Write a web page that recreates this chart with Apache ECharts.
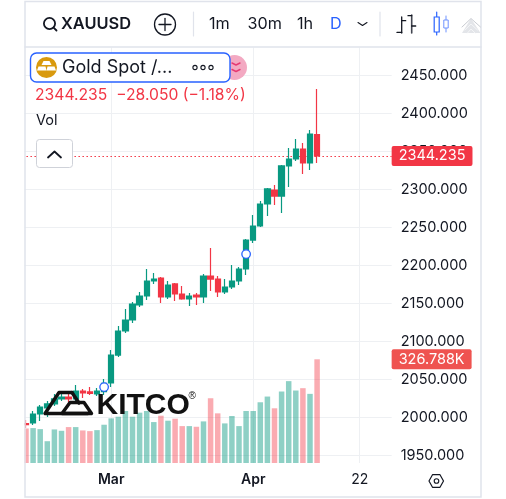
<!DOCTYPE html>
<html>
<head>
<meta charset="utf-8">
<title>XAUUSD</title>
<style>html,body{margin:0;padding:0;background:#fff}#chart{width:506px;height:499px}</style>
<script src="https://cdn.jsdelivr.net/npm/echarts@6/dist/echarts.min.js"></script>
</head>
<body>
<div id="chart"></div>
<script>
// Trading days shown on the time scale, including the empty days to the right of the last bar.
const categories = [
  '2024-02-14','2024-02-15','2024-02-16','2024-02-19','2024-02-20','2024-02-21','2024-02-22','2024-02-23',
  '2024-02-26','2024-02-27','2024-02-28','2024-02-29','2024-03-01','2024-03-04','2024-03-05','2024-03-06',
  '2024-03-07','2024-03-08','2024-03-11','2024-03-12','2024-03-13','2024-03-14','2024-03-15','2024-03-18',
  '2024-03-19','2024-03-20','2024-03-21','2024-03-22','2024-03-25','2024-03-26','2024-03-27','2024-03-28',
  '2024-04-01','2024-04-02','2024-04-03','2024-04-04','2024-04-05','2024-04-08','2024-04-09','2024-04-10',
  '2024-04-11','2024-04-12','2024-04-15','2024-04-16','2024-04-17','2024-04-18','2024-04-19','2024-04-22',
  '2024-04-23','2024-04-24','2024-04-25','2024-04-26'
];
const opens = [
  1992,1992.8,2004.6,2012.5,2017.8,2024.4,2027,2024.4,2034.9,2033.6,2031,2034,
  2045.4,2082.2,2113.8,2128.3,2148,2159.9,2179.6,2183.5,2158.6,2175.7,2162.5,2156,
  2161.2,2158.6,2186.2,2182.2,2165.1,2171.7,2179.6,2195.4,2233.5,2252,2280.9,2299.3,
  2291.4,2331,2340.1,2353.3,2334.9,2372.285
];
const closes = [
  1990.5,2004.6,2013.8,2017.8,2024.4,2027,2024.4,2034.9,2032.3,2031.6,2034.9,2045,
  2082.2,2113.8,2128.3,2149.3,2159.9,2179.6,2182.2,2158.6,2174.3,2162.5,2156,2159.9,
  2158.6,2186.2,2182.2,2165.1,2171.7,2179.6,2195.4,2233.5,2252,2280.9,2300.7,2291.4,
  2331,2340.1,2353.3,2334.9,2373,2344.235
];
const lows = [
  1986.2,1990.2,1995.4,2000.7,2015.2,2021.7,2020.4,2017.8,2025.7,2029.6,2028.3,2029.6,
  2040.1,2079.6,2111.2,2124.3,2145.4,2154.6,2175.7,2150.7,2156,2153.3,2155,2146.7,
  2148,2150.7,2166.4,2158.6,2162.5,2169,2174.3,2187.5,2229.6,2250.7,2265.1,2279.6,
  2269,2303.3,2337.5,2320.4,2325.7,2334.9
];
const highs = [
  1996.7,2008.6,2016.5,2021.7,2031,2032.3,2034.9,2042.8,2037.5,2040.1,2038.8,2050.7,
  2088.8,2120.4,2142.8,2152,2165.1,2195.4,2190.1,2184.9,2179.6,2177,2173,2163.8,
  2163.8,2188.8,2223,2186.2,2182.2,2200.6,2198,2235,2266.4,2284.9,2302,2306,
  2332.3,2354.6,2366.5,2361.2,2378.3,2432.2
];
// Volume in thousands.
const volumes = [
  108.9,110,106.8,68.7,105.8,101.5,113.2,113.2,102.6,100.5,103.6,120.6,
  140.7,145.9,163.9,145.9,158.6,163.9,129,149.1,133.3,139.6,116.3,116.3,
  114.2,131.1,204.1,156.5,124.8,148.1,116.3,163.9,163.9,191.4,209.4,172.4,
  225.3,258,228.4,235.8,217.9,326.788
];
// Event markers pinned to the price scale.
const eventDays = ['2024-02-29','2024-03-28'];
const eventPrices = [2040,2215];
const priceTicks = {min:1950,max:2450,step:50};
const timeLabels = {'2024-03-01':'Mar','2024-04-01':'Apr','2024-04-22':'22'};
const boldLabels = ['Mar','Apr'];
const intervals = ['1m','30m','1h','D'];
const symbolName = 'XAUUSD';
const legendName = 'Gold Spot /...';
const previousClose = 2372.285;

const lastClose = closes[closes.length - 1];
const lastVolume = volumes[volumes.length - 1];
const change = lastClose - previousClose;
const minus = '\u2212';
const readout = lastClose.toFixed(3) + '  ' + minus + Math.abs(change).toFixed(3) +
  ' (' + minus + Math.abs(change / previousClose * 100).toFixed(2) + '%)';

const UP = '#089981', DOWN = '#f23645', INK = '#131722', RULE = '#e0e3eb', BLUE = '#2962ff';
const FONT = 'Inter, "Noto Sans", sans-serif';

const text = (x, y, str, size, fill, extra) => ({
  type: 'text', z: 110, silent: true,
  style: Object.assign({x, y, text: str, fontSize: size, fontFamily: FONT, fill, textVerticalAlign: 'middle', verticalAlign: 'middle'}, extra || {})
});
const line = (pts, stroke, width, z) => ({
  type: 'polyline', z: z || 110, silent: true,
  shape: {points: pts}, style: {stroke, lineWidth: width, fill: null, lineCap: 'round', lineJoin: 'round'}
});
const box = (x, y, w, h, r, fill, stroke, width, z) => ({
  type: 'rect', z: z || 105, silent: true,
  shape: {x, y, width: w, height: h, r},
  style: {fill, stroke: stroke || null, lineWidth: width || 0}
});
const dot = (cx, cy, r, fill, stroke, width, z) => ({
  type: 'circle', z: z || 110, silent: true,
  shape: {cx, cy, r}, style: {fill, stroke: stroke || null, lineWidth: width || 0}
});
const poly = (pts, fill, z) => ({type: 'polygon', z: z || 112, silent: true, shape: {points: pts}, style: {fill}});

const chrome = [
  // Page margins and panel frame
  box(0, 0, 24.5, 499, 0, '#fff', null, 0, 100),
  box(481.5, 0, 25, 499, 0, '#fff', null, 0, 100),
  box(25, 1.5, 456, 46, 0, '#fff', null, 0, 100),
  box(25, 1.5, 456, 495.5, 0, 'transparent', RULE, 1.5, 108),
  line([[25, 47], [481, 47]], RULE, 1.5, 108),

  // Toolbar
  dot(49.5, 23.5, 5.6, 'transparent', INK, 1.8),
  line([[53.6, 27.6], [56.5, 30.5]], INK, 1.8),
  text(61, 24, symbolName, 16.4, INK, {fontWeight: 600}),
  dot(165, 24.5, 10.5, 'transparent', INK, 1.3),
  line([[165, 18.5], [165, 30.5]], INK, 1.3),
  line([[159, 24.5], [171, 24.5]], INK, 1.3),
  line([[193.5, 12], [193.5, 36]], RULE, 1.2),
  text(209, 24.5, intervals[0], 16.2, INK),
  text(247.5, 24.5, intervals[1], 16.2, INK),
  text(297, 24.5, intervals[2], 16.2, INK),
  text(330, 24.5, intervals[3], 16.2, BLUE),
  line([[358, 22.5], [362.5, 25.5], [367, 22.5]], INK, 1.1),
  line([[380, 12], [380, 36]], RULE, 1.2),

  // Bar / candle / area style buttons
  line([[401.7, 17], [401.7, 33]], INK, 1.3),
  line([[397, 32.4], [401.7, 32.4]], INK, 1.3),
  line([[401.7, 20.7], [405.7, 20.7]], INK, 1.3),
  line([[411.7, 15], [411.7, 33]], '#434651', 1.6),
  line([[408, 15.7], [411.7, 15.7]], INK, 1.3),
  line([[411.7, 26], [415.7, 26]], INK, 1.3),
  line([[436.7, 12], [436.7, 35]], BLUE, 1.2),
  box(434.2, 17, 5, 15, 0, '#fff', BLUE, 1.2, 110),
  line([[446, 16], [446, 32]], '#6f93ff', 1),
  box(443.8, 20, 4.4, 8, 0, '#fff', '#6f93ff', 1, 110),
  poly([[462, 33], [471, 18.5], [480.5, 33]], '#e3e5e9', 110),
  line([[462, 27], [471, 18.5], [480.5, 27]], '#c9ccd2', 1),
  line([[465, 30], [471, 24], [477.5, 30]], '#f4f5f7', 1),
  line([[467.5, 33], [471, 29], [475, 33]], '#f4f5f7', 1),

  // Instrument legend
  dot(234.5, 67.5, 12.5, '#f3a9c2', null, 0, 106),
  line([[232, 63], [236, 65], [240, 63]], '#e63a73', 1.4),
  line([[232, 69.5], [236, 71.5], [240, 69.5]], '#e63a73', 1.4),
  box(30.5, 53, 199.5, 29, 6, '#fff', BLUE, 1.4, 107),
  dot(46.5, 67.5, 10.5, '#d99a0e', null, 0, 111),
  poly([[43.5, 61], [49.5, 61], [51.5, 65], [41.5, 65]], '#fff'),
  poly([[38.5, 66.5], [45.5, 66.5], [46.5, 70.5], [37, 70.5]], '#fff'),
  poly([[47.5, 66.5], [54.5, 66.5], [56, 70.5], [46.5, 70.5]], '#fff'),
  text(62, 68, legendName, 18, INK),
  dot(195, 67.5, 2.1, '#fff', INK, 1.1),
  dot(203, 67.5, 2.1, '#fff', INK, 1.1),
  dot(211, 67.5, 2.1, '#fff', INK, 1.1),
  text(35, 95, readout, 15.7, DOWN),
  text(36, 121, 'Vol', 14.5, INK),
  box(36.5, 139.5, 36, 28, 3, '#fff', '#cfd2d9', 1, 107),
  line([[48, 157.5], [54.5, 151.5], [61, 157.5]], INK, 1.8),

  // Axis settings hexagon
  line([[429, 481], [432.5, 474.7], [440, 474.7], [443.5, 481], [440, 487.3], [432.5, 487.3], [429, 481]], INK, 1.2),
  dot(436.5, 481, 2.3, 'transparent', INK, 1.1),

  // Publisher logo
  line([[72, 392.5], [59, 392.5], [45, 413.5], [88, 413.5]], '#111', 3.4, 115),
  line([[72, 392.5], [79, 403]], '#111', 3.4, 115),
  line([[62, 413.5], [70, 402.5], [84, 402.5], [91.5, 413.5], [62, 413.5]], '#111', 3.4, 115),
  {type: 'text', z: 115, silent: true, style: {x: 96.5, y: 405.5, text: 'KITCO', fontSize: 30, fontWeight: 'bold',
    fontFamily: '"Liberation Sans", sans-serif', fill: '#111', verticalAlign: 'middle', textVerticalAlign: 'middle'}},
  {type: 'text', z: 115, silent: true, style: {x: 188.5, y: 396, text: '\u00ae', fontSize: 10,
    fontFamily: '"Liberation Sans", sans-serif', fill: '#111', verticalAlign: 'middle', textVerticalAlign: 'middle'}}
];

const priceFlag = (bg) => ({
  show: true, position: 'end', distance: 0, color: '#fff', fontSize: 14.5, fontFamily: FONT,
  backgroundColor: bg, padding: [2.5, 7, 2.5, 7], borderRadius: 2
});

const chart = echarts.init(document.getElementById('chart'), null, {renderer: 'canvas'});
chart.setOption({
  animation: false,
  backgroundColor: '#fff',
  graphic: {elements: chrome},
  grid: [
    {left: 22.45, width: 369.2, top: 75.5, height: 380},
    {left: 22.45, width: 369.2, top: 47, height: 416}
  ],
  xAxis: [
    {type: 'category', gridIndex: 0, data: categories, show: false},
    {
      type: 'category', gridIndex: 1, data: categories,
      axisLine: {show: false}, axisTick: {show: false},
      splitLine: {
        show: true, alignWithLabel: true,
        interval: (i, v) => v in timeLabels,
        lineStyle: {color: '#eef0f3', width: 1}
      },
      axisLabel: {
        interval: (i, v) => v in timeLabels,
        margin: 10, fontFamily: FONT,
        formatter: v => boldLabels.includes(timeLabels[v]) ? '{b|' + timeLabels[v] + '}' : '{n|' + timeLabels[v] + '}',
        rich: {
          b: {fontWeight: 600, fontSize: 14, color: INK, fontFamily: FONT},
          n: {fontSize: 14, color: INK, fontFamily: FONT}
        }
      }
    }
  ],
  yAxis: [
    {
      type: 'value', gridIndex: 0, position: 'right', scale: true,
      min: priceTicks.min, max: priceTicks.max, interval: priceTicks.step,
      axisLine: {show: false}, axisTick: {show: false},
      splitLine: {show: true, lineStyle: {color: '#eef0f3', width: 1}},
      axisLabel: {margin: 9, color: INK, fontSize: 14.5, fontFamily: FONT, formatter: v => v.toFixed(3)}
    },
    {type: 'value', gridIndex: 1, min: 0, max: 1311, show: false}
  ],
  series: [
    {
      type: 'bar', name: 'Vol', xAxisIndex: 1, yAxisIndex: 1, barWidth: 5.5, z: 2,
      data: volumes.map((v, i) => ({
        value: v,
        itemStyle: {color: closes[i] >= opens[i] ? 'rgba(8,153,129,0.46)' : 'rgba(242,54,69,0.42)'}
      })),
      markLine: {
        silent: true, symbol: 'none', animation: false,
        lineStyle: {color: 'transparent', width: 0},
        data: [{yAxis: lastVolume, label: Object.assign(priceFlag('#ef5350'), {formatter: () => lastVolume.toFixed(3) + 'K'})}]
      }
    },
    {
      type: 'candlestick', name: symbolName, xAxisIndex: 0, yAxisIndex: 0, barWidth: 5.8, z: 5, clip: false,
      itemStyle: {color: UP, color0: DOWN, borderColor: UP, borderColor0: DOWN, borderWidth: 1.2},
      data: categories.slice(0, opens.length).map((c, i) => [opens[i], closes[i], lows[i], highs[i]]),
      markLine: {
        silent: true, symbol: 'none', animation: false,
        lineStyle: {color: DOWN, type: [1.5, 2.5], width: 1},
        data: [{yAxis: lastClose, label: Object.assign(priceFlag(DOWN), {formatter: () => lastClose.toFixed(3)})}]
      }
    },
    {
      type: 'scatter', xAxisIndex: 0, yAxisIndex: 0, z: 6, symbol: 'circle', symbolSize: 8.5,
      itemStyle: {color: '#fff', borderColor: BLUE, borderWidth: 1.3, opacity: 1},
      data: eventDays.map((d, i) => [d, eventPrices[i]])
    }
  ]
});
</script>
</body>
</html>
